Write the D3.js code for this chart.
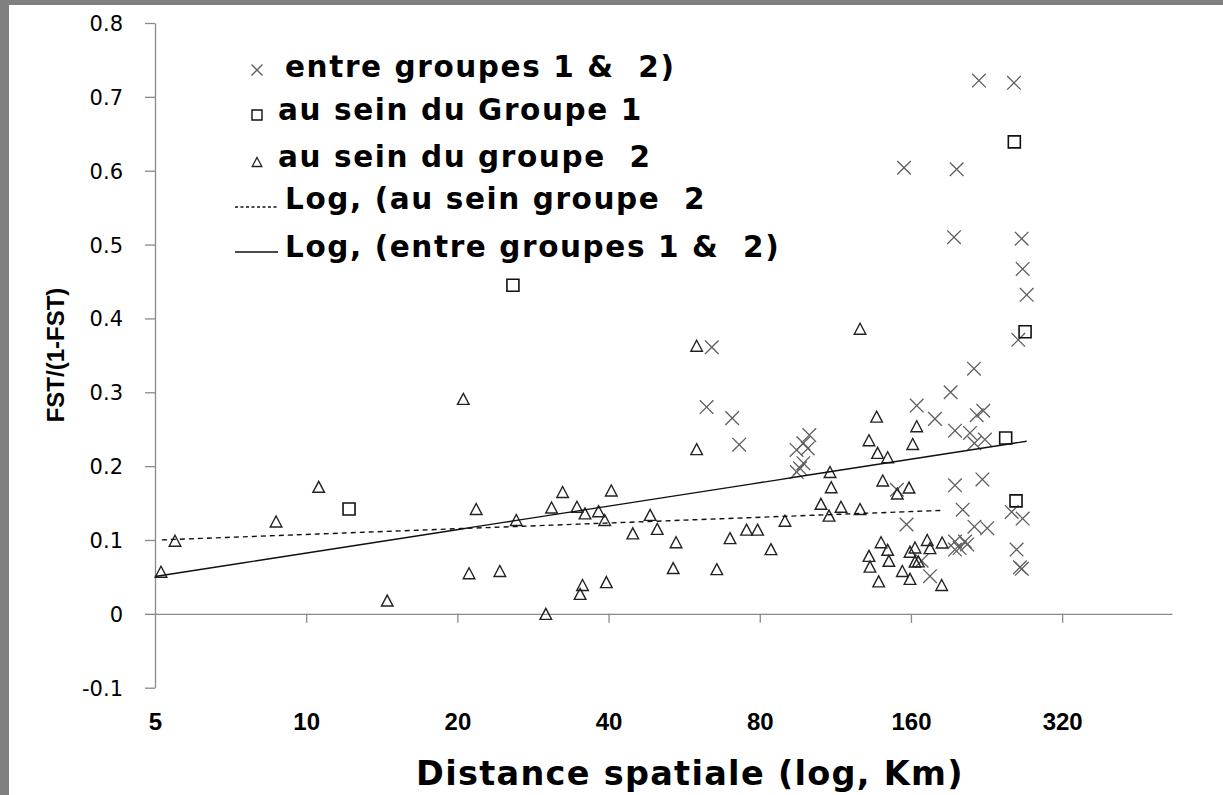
<!DOCTYPE html>
<html><head><meta charset="utf-8">
<script src="https://cdn.jsdelivr.net/npm/d3@7"></script>
<style>
html,body{margin:0;padding:0;background:#808080;}
svg{display:block;}
text{white-space:pre;}
</style></head>
<body>
<svg id="chart" width="1223" height="795"></svg>
<script>
// ---- data (distance in km, FST/(1-FST)) ----
const entreDist = [64.2,62.7,70.5,72.8,100.4,97.7,99.7,94.7,97.7,96.2,94.8,155,197.3,218.5,256.6,194.9,265.8,267,272,261.7,213.6,191.9,164.3,178.6,216.3,222.9,195.8,209.7,214,224.6,150,195.8,222,202.8,253.9,267,214,227,156.8,259.7,263.7,266,168,174.6,195.8,195.8,205,207,200];
const entreVal  = [0.361,0.280,0.265,0.229,0.242,0.231,0.224,0.222,0.204,0.197,0.192,0.604,0.602,0.722,0.719,0.510,0.508,0.467,0.432,0.371,0.332,0.300,0.282,0.264,0.269,0.275,0.248,0.245,0.231,0.236,0.168,0.174,0.182,0.141,0.138,0.129,0.118,0.116,0.121,0.087,0.063,0.061,0.072,0.051,0.098,0.087,0.098,0.094,0.089];
const g1Dist = [12.17,25.8,257,270,247,259];
const g1Val  = [0.142,0.445,0.639,0.382,0.238,0.153];
const g2Dist = [5.14,5.48,8.71,10.59,14.5,20.55,21.8,21.1,24.3,26.2,30.0,30.8,32.4,34.6,35.9,35.5,35.1,38.2,39.3,39.6,40.5,44.7,48.4,50.0,53.8,54.5,59.9,59.9,65.7,69.8,75.3,79.2,84.2,89.8,105.9,109.9,110.4,111,116.1,126.7,126.7,132,132,132.6,136.7,137.3,138,139.5,140.6,143.8,143.8,144.6,150.3,153.8,158.6,159.3,159.3,161.3,163,163,164.3,165.5,172.4,174.6,184.6,184.2];
const g2Val  = [0.057,0.099,0.125,0.172,0.018,0.291,0.142,0.055,0.058,0.127,0.0,0.144,0.165,0.145,0.136,0.039,0.027,0.139,0.127,0.043,0.167,0.109,0.134,0.115,0.062,0.097,0.363,0.223,0.0605,0.1025,0.114,0.114,0.0876,0.126,0.149,0.133,0.192,0.1715,0.145,0.386,0.142,0.235,0.0785,0.064,0.267,0.218,0.044,0.097,0.1805,0.212,0.0867,0.0718,0.163,0.058,0.171,0.0474,0.084,0.230,0.0898,0.0708,0.254,0.071,0.100,0.089,0.0966,0.039];
// logarithmic trend lines y = a + b ln(x), drawn over [xFrom, xTo]
const trendEntre = [-0.0233, 0.04585, 5, 272];
const trendG2    = [0.0818, 0.01117, 5.16, 185];
const xTicks = [5,10,20,40,80,160,320];
const yTicks = [-0.1,0,0.1,0.2,0.3,0.4,0.5,0.6,0.7,0.8];
const yTickLabels = ["-0.1","0","0.1","0.2","0.3","0.4","0.5","0.6","0.7","0.8"];
const legendLabels = ["entre groupes 1 &  2)","au sein du Groupe 1","au sein du groupe  2","Log, (au sein groupe  2","Log, (entre groupes 1 &  2)"];
const xTitle = "Distance spatiale (log, Km)";
const yTitle = "FST/(1-FST)";

const svg = d3.select("#chart");
svg.append("rect").attr("x",9).attr("y",5).attr("width",1214).attr("height",790).attr("fill","#fff");

const x = d3.scaleLog().base(2).domain([5, 529.5]).range([155, 1172]);
const y = d3.scaleLinear().domain([-0.1, 0.8]).range([687.7, 23]);
const axisColor = "#8a8a8a";

// Y axis
const gy = svg.append("g").attr("transform","translate(155,0)")
  .call(d3.axisLeft(y).tickValues(yTicks).tickSize(10).tickSizeOuter(0).tickPadding(22)
    .tickFormat((d,i)=>yTickLabels[i]));
gy.select(".domain").attr("stroke",axisColor).attr("stroke-width",1.3);
gy.selectAll(".tick line").attr("stroke",axisColor).attr("stroke-width",1.3);
gy.selectAll(".tick text").attr("font-family","DejaVu Sans").attr("font-size",21).attr("fill","#000").attr("dy","0.36em");

// X axis
const gx = svg.append("g").attr("transform","translate(0,"+y(0)+")")
  .call(d3.axisBottom(x).tickValues(xTicks).tickSize(9).tickSizeOuter(0).tickFormat(d=>String(d)));
gx.select(".domain").attr("stroke",axisColor).attr("stroke-width",1.3);
gx.selectAll(".tick line").attr("stroke",axisColor).attr("stroke-width",1.3).attr("opacity",(d)=>d===5?0:1);
gx.selectAll(".tick text").attr("font-family","Liberation Sans").attr("font-weight","bold").attr("font-size",24).attr("fill","#000").attr("y",116).attr("dy",null);

// marker shapes
const xPath = s => `M${-s},${-s}L${s},${s}M${-s},${s}L${s},${-s}`;
const triPath = (w,h) => `M0,${-h}L${w},${h}L${-w},${h}Z`;
const sqPath = s => `M${-s},${-s}H${s}V${s}H${-s}Z`;

const entre = entreDist.map((d,i)=>[d,entreVal[i]]);
const g1 = g1Dist.map((d,i)=>[d,g1Val[i]]);
const g2 = g2Dist.map((d,i)=>[d,g2Val[i]]);

svg.append("g").selectAll("path").data(entre).join("path")
  .attr("transform",d=>`translate(${x(d[0])},${y(d[1])})`)
  .attr("d",xPath(6.8)).attr("fill","none").attr("stroke","#5e5e5e").attr("stroke-width",1.3);
svg.append("g").selectAll("path").data(g1).join("path")
  .attr("transform",d=>`translate(${x(d[0])},${y(d[1])})`)
  .attr("d",sqPath(6)).attr("fill","none").attr("stroke","#111").attr("stroke-width",1.6);
svg.append("g").selectAll("path").data(g2).join("path")
  .attr("transform",d=>`translate(${x(d[0])},${y(d[1])})`)
  .attr("d",triPath(5.8,5.5)).attr("fill","none").attr("stroke","#222").attr("stroke-width",1.4);

// trend lines
function trendPts(t){
  const n=60, pts=[];
  const l0=Math.log(t[2]), l1=Math.log(t[3]);
  for(let i=0;i<=n;i++){const xv=Math.exp(l0+(l1-l0)*i/n); pts.push([xv, t[0]+t[1]*Math.log(xv)]);}
  return pts;
}
const line = d3.line().x(d=>x(d[0])).y(d=>y(d[1]));
svg.append("path").attr("d",line(trendPts(trendG2))).attr("fill","none").attr("stroke","#111").attr("stroke-width",1.4).attr("stroke-dasharray","5,4");
svg.append("path").attr("d",line(trendPts(trendEntre))).attr("fill","none").attr("stroke","#111").attr("stroke-width",1.4);

// legend
const lg = svg.append("g");
const legY = [77,120,167,209,257];
const legX = [285,278,278,285,285];
legendLabels.forEach((t,i)=>{
  lg.append("text").attr("x",legX[i]).attr("y",legY[i]).text(t)
    .attr("font-family","DejaVu Sans").attr("font-weight","bold").attr("font-size",29.5).attr("letter-spacing",1.6).attr("fill","#000");
});
lg.append("path").attr("transform","translate(257,70)").attr("d",xPath(5.5)).attr("fill","none").attr("stroke","#5e5e5e").attr("stroke-width",1.3);
lg.append("path").attr("transform","translate(257,115)").attr("d",sqPath(5)).attr("fill","none").attr("stroke","#111").attr("stroke-width",1.4);
lg.append("path").attr("transform","translate(257,162)").attr("d",triPath(4.8,4.5)).attr("fill","none").attr("stroke","#222").attr("stroke-width",1.3);
lg.append("line").attr("x1",235).attr("x2",277).attr("y1",207).attr("y2",207).attr("stroke","#111").attr("stroke-width",1.3).attr("stroke-dasharray","3,2.5");
lg.append("line").attr("x1",235).attr("x2",278).attr("y1",252).attr("y2",252).attr("stroke","#111").attr("stroke-width",1.3);

// titles
svg.append("text").attr("x",690).attr("y",785).attr("text-anchor","middle").text(xTitle)
  .attr("font-family","DejaVu Sans").attr("font-weight","bold").attr("font-size",33.5).attr("letter-spacing",1.3).attr("fill","#000");
svg.append("text").attr("transform","translate(64,355) rotate(-90)").attr("text-anchor","middle").text(yTitle)
  .attr("font-family","Liberation Sans").attr("font-weight","bold").attr("font-size",24).attr("fill","#000");
</script>
</body></html>
